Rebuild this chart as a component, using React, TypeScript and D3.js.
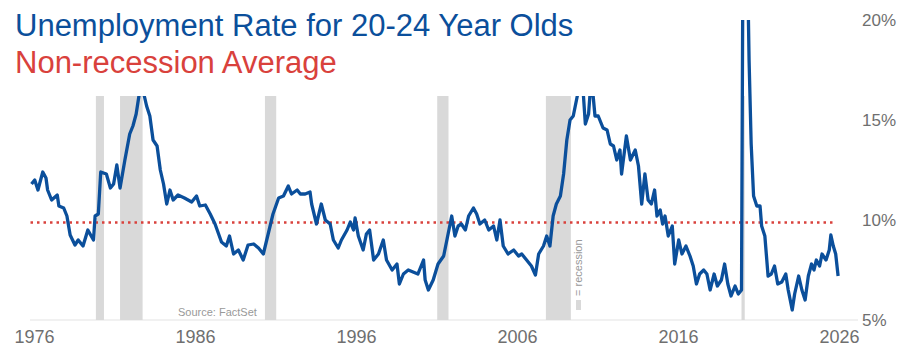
import React from "react";
import * as d3 from "d3";

const seriesYears = [
  1976.0, 1976.2, 1976.4, 1976.5, 1976.7, 1976.9, 1977.0, 1977.25, 1977.6, 1977.7, 1978.0, 1978.2, 1978.4, 1978.7, 1978.9,
  1979.2, 1979.5, 1979.85, 1979.95, 1980.15, 1980.3, 1980.65, 1980.9, 1981.1, 1981.3, 1981.5, 1981.8, 1982.1, 1982.3, 1982.5,
  1982.75, 1982.95, 1983.15, 1983.35, 1983.55, 1983.8, 1984.0, 1984.2, 1984.4, 1984.6, 1984.8, 1985.1, 1985.5, 1985.95, 1986.25,
  1986.45, 1986.8, 1987.1, 1987.4, 1987.8, 1988.1, 1988.3, 1988.55, 1988.85, 1989.15, 1989.45, 1989.8, 1990.1, 1990.4, 1990.7,
  1991.0, 1991.35, 1991.65, 1991.95, 1992.15, 1992.5, 1992.7, 1993.0, 1993.3, 1993.4, 1993.7, 1994.0, 1994.25, 1994.55, 1994.75,
  1995.05, 1995.25, 1995.6, 1995.8, 1996.0, 1996.1, 1996.3, 1996.6, 1996.8, 1997.0, 1997.25, 1997.55, 1997.85, 1998.05, 1998.4,
  1998.7, 1998.85, 1999.1, 1999.4, 1999.7, 2000.0, 2000.35, 2000.45, 2000.65, 2000.95, 2001.25, 2001.6, 2001.8, 2002.1, 2002.3,
  2002.5, 2002.7, 2002.95, 2003.15, 2003.45, 2003.65, 2003.85, 2004.15, 2004.4, 2004.7, 2004.9, 2005.1, 2005.3, 2005.6, 2005.95,
  2006.25, 2006.45, 2006.75, 2007.05, 2007.3, 2007.5, 2007.8, 2008.0, 2008.2, 2008.4, 2008.6, 2008.85, 2009.05, 2009.25, 2009.45,
  2009.65, 2009.85, 2009.95, 2010.25, 2010.4, 2010.6, 2010.7, 2010.85, 2011.0, 2011.2, 2011.5, 2011.75, 2011.95, 2012.15, 2012.35,
  2012.55, 2012.65, 2012.95, 2013.2, 2013.5, 2013.7, 2013.9, 2014.1, 2014.3, 2014.5, 2014.7, 2014.85, 2015.05, 2015.2, 2015.35,
  2015.55, 2015.8, 2015.95, 2016.2, 2016.4, 2016.65, 2016.9, 2017.1, 2017.3, 2017.5, 2017.75, 2017.95, 2018.15, 2018.4, 2018.6,
  2018.85, 2019.05, 2019.25, 2019.45, 2019.7, 2019.9, 2020.1, 2020.2, 2020.5, 2020.57, 2020.7, 2020.85, 2021.05, 2021.25, 2021.35,
  2021.55, 2021.75, 2021.95, 2022.15, 2022.35, 2022.6, 2022.85, 2023.0, 2023.25, 2023.4, 2023.65, 2023.85, 2024.05, 2024.25, 2024.45,
  2024.6, 2024.75, 2024.95, 2025.1, 2025.35, 2025.55, 2025.65, 2025.8, 2025.95, 2026.1,
];

const seriesRates = [
  11.8, 12.0, 11.5, 11.8, 12.4, 12.1, 11.5, 11.0, 11.25, 10.7, 10.6, 10.2, 9.25, 8.75, 9.0,
  8.7, 9.5, 9.0, 10.2, 10.3, 12.4, 12.3, 11.6, 11.8, 12.75, 11.6, 13.0, 14.3, 14.7, 15.3,
  16.6, 16.4, 15.7, 15.2, 14.0, 13.7, 12.5, 11.8, 10.8, 11.5, 11.0, 11.25, 11.1, 10.9, 11.2,
  10.7, 10.75, 10.3, 9.8, 8.9, 8.7, 9.2, 8.3, 8.5, 8.0, 8.75, 8.8, 8.6, 8.3, 9.3,
  10.3, 11.1, 11.2, 11.7, 11.3, 11.5, 11.3, 11.3, 11.4, 10.8, 9.8, 10.8, 10.0, 9.8, 9.0,
  8.6, 9.0, 9.5, 9.9, 9.5, 10.1, 9.2, 8.5, 9.3, 9.5, 8.0, 8.3, 9.0, 8.0, 7.5,
  7.8, 6.8, 7.3, 7.5, 7.4, 7.3, 8.0, 7.0, 6.5, 7.0, 7.8, 8.2, 9.0, 10.2, 9.2,
  9.7, 9.8, 9.5, 10.2, 10.6, 10.3, 9.8, 10.0, 9.5, 9.7, 9.0, 10.0, 8.7, 8.3, 8.5,
  8.2, 8.3, 8.0, 7.7, 7.25, 8.3, 8.7, 9.2, 8.7, 10.2, 10.8, 11.2, 12.3, 14.0, 15.0,
  15.2, 16.0, 16.4, 16.6, 14.8, 15.3, 16.4, 16.5, 15.2, 15.2, 14.6, 14.5, 13.8, 13.7, 13.0,
  13.5, 12.3, 14.2, 13.0, 13.5, 12.7, 10.8, 12.3, 11.0, 10.8, 11.5, 10.2, 10.5, 9.8, 10.2,
  9.2, 9.7, 7.8, 9.0, 8.3, 8.7, 8.2, 7.7, 6.8, 7.3, 7.5, 7.3, 6.5, 7.3, 6.7,
  7.0, 7.8, 6.8, 6.2, 6.7, 6.3, 6.5, 25.6, 21.5, 18.0, 13.8, 11.2, 10.7, 10.7, 9.7,
  9.2, 7.2, 7.3, 7.7, 6.8, 6.9, 7.3, 6.5, 5.5, 6.3, 7.2, 6.5, 6.0, 7.2, 7.8,
  7.5, 8.0, 7.7, 8.3, 8.0, 8.5, 9.25, 8.7, 8.3, 7.2,
];

const recessionStarts = [1980.0, 1981.5, 1990.5, 2001.2, 2007.95, 2020.1];
const recessionEnds = [1980.5, 1982.9, 1991.2, 2001.9, 2009.5, 2020.3];

const nonRecessionAverage = 9.87;
const xTickYears = [1976, 1986, 1996, 2006, 2016, 2026];
const yTickValues = [5, 10, 15, 20];

const titleLine1 = "Unemployment Rate for 20-24 Year Olds";
const titleLine2 = "Non-recession Average";
const sourceText = "Source: FactSet";
const legendText = "= recession";

const W = 917;
const H = 352;
const BLUE = "#0b4f9b";
const RED = "#d9413c";
const GRAY_TEXT = "#6f6f6f";
const FONT = "'Liberation Sans', Arial, sans-serif";

export default function App() {
  const x = d3.scaleLinear().domain([1976, 2026]).range([31.5, 836.5]);
  const y = d3.scaleLinear().domain([5, 20]).range([320, 20]);
  const barTop = y(16.2);

  const points: [number, number][] = seriesYears.map((yr, i) => [yr, seriesRates[i]]);
  const line = d3
    .line<[number, number]>()
    .x((d) => x(d[0]))
    .y((d) => y(d[1]));

  return (
    <svg width={W} height={H} style={{ display: "block", position: "absolute", left: 0, top: 0, background: "#fff" }}>
      <defs>
        <clipPath id="plotClip">
          <rect x={0} y={y(20)} width={W} height={y(5) - y(20) + 4} />
        </clipPath>
      </defs>
      <rect x={0} y={0} width={W} height={H} fill="#fff" />
      <line x1={30} x2={858} y1={y(5)} y2={y(5)} stroke="#e3e3e3" strokeWidth={1} />
      {recessionStarts.map((s, i) => (
        <rect
          key={i}
          x={x(s)}
          y={barTop}
          width={Math.max(2, x(recessionEnds[i]) - x(s))}
          height={y(5) - barTop}
          fill="#d9d9d9"
        />
      ))}
      <line
        x1={x(1976) - 1}
        x2={x(2026) - 1}
        y1={y(nonRecessionAverage)}
        y2={y(nonRecessionAverage)}
        stroke={RED}
        strokeWidth={2.5}
        strokeDasharray="2.5 4"
      />
      <g clipPath="url(#plotClip)">
        <path d={line(points) || ""} fill="none" stroke={BLUE} strokeWidth={3.3} strokeLinejoin="round" />
      </g>
      <rect x={0} y={0} width={620} height={barTop} fill="#fff" />
      <text x={15} y={36} fontFamily={FONT} fontSize={31} fill={BLUE}>
        {titleLine1}
      </text>
      <text x={15} y={73} fontFamily={FONT} fontSize={31} fill={RED}>
        {titleLine2}
      </text>
      <text x={178} y={316} fontFamily={FONT} fontSize={11} fill="#999">
        {sourceText}
      </text>
      <rect x={576} y={300} width={5} height={10} fill="#d9d9d9" />
      <text transform={`translate(582, 296) rotate(-90)`} fontFamily={FONT} fontSize={11} fill="#999">
        {legendText}
      </text>
      {yTickValues.map((v) => (
        <text key={v} x={862} y={y(v)} dy="0.35em" fontFamily={FONT} fontSize={17} fill={GRAY_TEXT}>
          {`${v}%`}
        </text>
      ))}
      {xTickYears.map((yr) => (
        <text key={yr} x={x(yr) + 3} y={343} textAnchor="middle" fontFamily={FONT} fontSize={18} fill={GRAY_TEXT}>
          {String(yr)}
        </text>
      ))}
    </svg>
  );
}
